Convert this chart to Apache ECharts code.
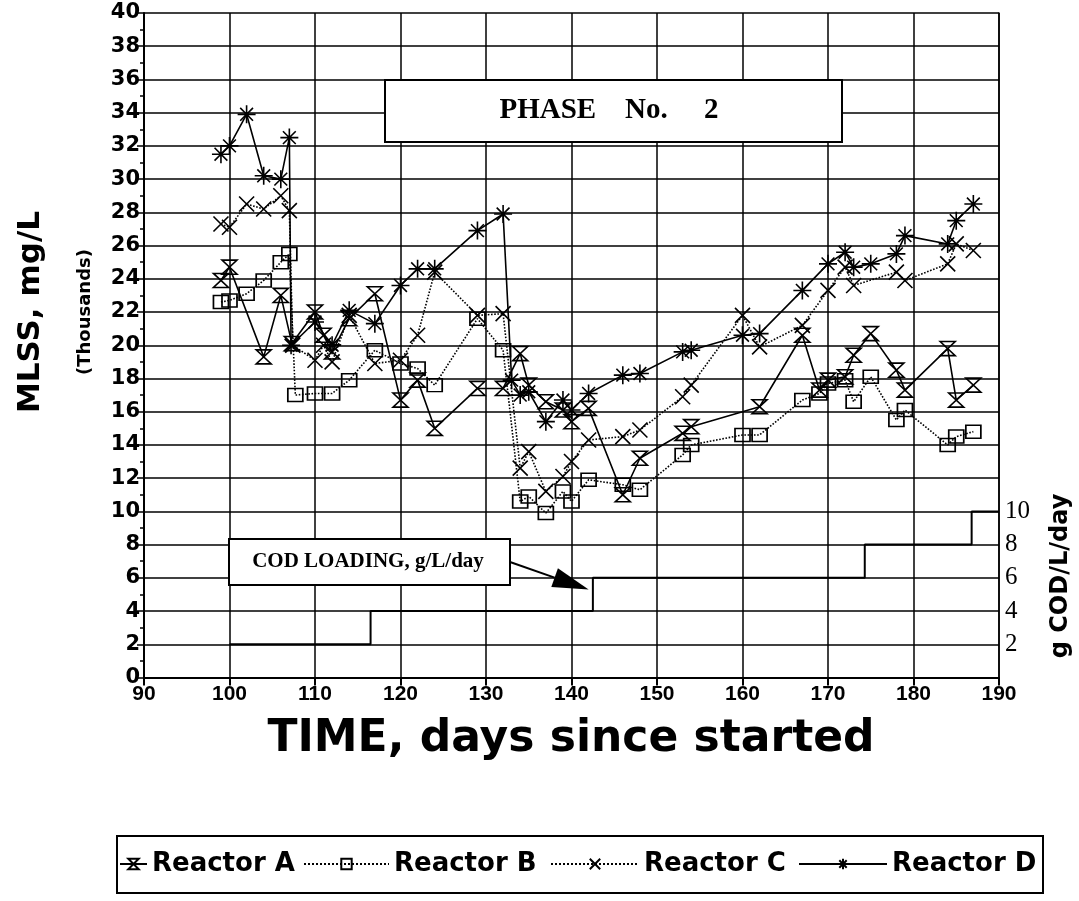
<!DOCTYPE html>
<html><head><meta charset="utf-8">
<script src="https://cdn.jsdelivr.net/npm/echarts@6/dist/echarts.min.js"></script>
<style>html,body{margin:0;padding:0;background:#fff}#c{width:1079px;height:901px}</style>
</head><body><div id="c"></div>
<script>
// ---- data (days, MLSS in thousands mg/L) ----
const daysA=[99,100,104,106,107.3,110,111,112,114,117,120,122,124,129,132,134,135,137,139,140,142,146,148,153,154,162,167,169,170,172,173,175,178,179,184,185,187];
const valsA=[23.9,24.7,19.3,23.0,20.1,22.0,20.6,19.6,21.6,23.1,16.7,17.9,15.0,17.4,17.4,19.5,17.6,16.6,16.1,15.4,16.2,11.0,13.2,14.7,15.1,16.3,20.6,17.3,17.9,18.1,19.4,20.7,18.5,17.3,19.8,16.7,17.6];
const daysB=[99,100,102,104,106,107,107.7,110,112,114,117,120,122,124,129,132,134,135,137,139,140,142,146,148,153,154,160,162,167,169,170,172,173,175,178,179,184,185,187];
const valsB=[22.6,22.7,23.1,23.9,25.0,25.5,17.0,17.1,17.1,17.9,19.7,18.9,18.6,17.6,21.6,19.7,10.6,10.9,9.9,11.2,10.6,11.9,11.6,11.3,13.4,14.0,14.6,14.6,16.7,17.1,17.7,17.9,16.6,18.1,15.5,16.1,14.0,14.5,14.8];
const daysC=[99,100,102,104,106,107,107.4,110,111,112,114,117,120,122,124,129,132,134,135,137,139,140,142,146,148,153,154,160,162,167,170,172,173,178,179,184,185,187];
const valsC=[27.3,27.1,28.5,28.2,29.0,28.1,20.0,19.1,20.0,19.0,21.8,18.9,19.1,20.6,24.4,21.8,21.9,12.6,13.6,11.2,12.1,13.0,14.3,14.5,14.9,16.9,17.6,21.8,19.9,21.2,23.3,24.7,23.6,24.4,23.9,24.9,26.1,25.7];
const daysD=[99,100,102,104,106,107,107.2,110,112,114,117,120,122,124,129,132,133,134,135,137,139,140,142,146,148,153,154,160,162,167,170,172,173,175,178,179,184,185,187];
const valsD=[31.5,32.0,33.9,30.2,30.0,32.5,20.0,21.4,20.0,22.1,21.3,23.6,24.6,24.6,26.9,27.9,17.9,17.0,17.2,15.4,16.7,16.1,17.1,18.2,18.3,19.6,19.7,20.6,20.7,23.3,24.9,25.6,24.7,24.9,25.5,26.6,26.1,27.5,28.5];
// COD loading step (g COD/L/day)
const codDays=[100,116.5,142.5,174.3,186.8,190];
const codLevels=[2,4,6,8,10,10];
const seriesNames=['Reactor A','Reactor B','Reactor C','Reactor D'];
const rightTickLabels=[2,4,6,8,10];

const zip=(d,v)=>d.map((x,i)=>[x,v[i]]);
const SYM_HOUR='path://M0,0 L16,0 L0,15 L16,15 Z';
const SYM_X='path://M0,0 L16,16 M16,0 L0,16';
const SYM_AST='path://M9,0 L9,18 M0,9 L18,9 M2.6,2.6 L15.4,15.4 M2.6,15.4 L15.4,2.6';

const chart=echarts.init(document.getElementById('c'),null,{renderer:'canvas'});
const mk=(name,data,symbol,size,ltype)=>({
  name,type:'line',data,symbol,symbolSize:size,symbolKeepAspect:true,
  lineStyle:{color:'#000',width:1.6,type:ltype},
  itemStyle:{color:'rgba(255,255,255,0)',borderColor:'#000',borderWidth:1.6},
  emphasis:{disabled:true},z:3
});
const legTxt={color:'#000',fontFamily:'DejaVu Sans',fontWeight:'bold',fontSize:26};
const legendLeft=[119,303,550,798];
const legendIconW=[27,85,88,88];
const option={
  animation:false,
  backgroundColor:'#fff',
  grid:{left:144,top:13,width:855,height:664.5,containLabel:false},
  xAxis:{type:'value',min:90,max:190,interval:10,
    axisLine:{lineStyle:{color:'#000',width:2}},
    axisTick:{length:8,lineStyle:{color:'#000',width:2}},
    axisLabel:{color:'#000',fontFamily:'Liberation Sans',fontWeight:'bold',fontSize:21,margin:6},
    splitLine:{show:true,lineStyle:{color:'#000',width:1.5}}},
  yAxis:[{type:'value',min:0,max:40,interval:2,
    axisLine:{show:true,lineStyle:{color:'#000',width:2}},
    axisTick:{show:true,length:7,lineStyle:{color:'#000',width:1.5}},
    minorTick:{show:true,splitNumber:2,length:4,lineStyle:{color:'#000',width:1.5}},
    axisLabel:{color:'#000',fontFamily:'DejaVu Sans',fontWeight:'bold',fontSize:21,margin:4},
    splitLine:{show:true,lineStyle:{color:'#000',width:1.5}}},
   {type:'value',min:0,max:40,interval:2,position:'right',
    axisLine:{show:true,lineStyle:{color:'#000',width:1.5}},
    axisTick:{show:false},splitLine:{show:false},
    axisLabel:{color:'#000',fontFamily:'Liberation Serif',fontSize:25,margin:6,
      formatter:v=>rightTickLabels.indexOf(v)>=0?String(v):''}}],
  legend:seriesNames.map((n,i)=>({show:true,data:[n],left:legendLeft[i],top:851,
    itemWidth:legendIconW[i],itemHeight:13,padding:0,textStyle:legTxt})),
  series:[
    mk(seriesNames[0],zip(daysA,valsA),SYM_HOUR,15,'solid'),
    mk(seriesNames[1],zip(daysB,valsB),'rect',[15,13],'dotted'),
    mk(seriesNames[2],zip(daysC,valsC),SYM_X,15,'dotted'),
    mk(seriesNames[3],zip(daysD,valsD),SYM_AST,18,'solid'),
    {name:'COD',type:'line',yAxisIndex:1,step:'end',symbol:'none',data:zip(codDays,codLevels),
     lineStyle:{color:'#000',width:2},emphasis:{disabled:true},z:2}
  ]
};
chart.setOption(option);
const tip=chart.convertToPixel({gridIndex:0},[142.0,5.3]);
const tail=[510,562];
const ang=Math.atan2(tip[1]-tail[1],tip[0]-tail[0]);
const L=36,W=10;
const bx=tip[0]-L*Math.cos(ang), by=tip[1]-L*Math.sin(ang);
const head=[[tip[0],tip[1]],[bx+W*Math.sin(ang),by-W*Math.cos(ang)],[bx-W*Math.sin(ang),by+W*Math.cos(ang)]];
chart.setOption({graphic:[
  {type:'rect',z:100,shape:{x:385,y:80,width:457,height:62},style:{fill:'#fff',stroke:'#000',lineWidth:2}},
  {type:'text',z:101,x:609,y:111,style:{text:'PHASE\u2003No.\u2003 2',font:'bold 29px "Liberation Serif"',fill:'#000',textAlign:'center',textVerticalAlign:'middle'}},
  {type:'rect',z:100,shape:{x:229,y:539,width:281,height:46},style:{fill:'#fff',stroke:'#000',lineWidth:2}},
  {type:'text',z:101,x:368,y:562,style:{text:'COD LOADING, g/L/day',font:'bold 21px "Liberation Serif"',fill:'#000',textAlign:'center',textVerticalAlign:'middle'}},
  {type:'line',z:100,shape:{x1:tail[0],y1:tail[1],x2:bx,y2:by},style:{stroke:'#000',lineWidth:2}},
  {type:'polygon',z:100,shape:{points:head},style:{fill:'#000'}},
  {type:'rect',z:100,shape:{x:117,y:836,width:926,height:57},style:{fill:'none',stroke:'#000',lineWidth:2}},
  {type:'text',z:101,x:571,y:740,style:{text:'TIME, days since started',font:'bold 44px "DejaVu Sans"',fill:'#000',textAlign:'center',textVerticalAlign:'middle'}},
  {type:'text',z:101,x:31,y:312,rotation:Math.PI/2,style:{text:'MLSS, mg/L',font:'bold 31px "DejaVu Sans"',fill:'#000',textAlign:'center',textVerticalAlign:'middle'}},
  {type:'text',z:101,x:85,y:312,rotation:Math.PI/2,style:{text:'(Thousands)',font:'bold 18px "DejaVu Sans"',fill:'#000',textAlign:'center',textVerticalAlign:'middle'}},
  {type:'text',z:101,x:1061,y:576,rotation:Math.PI/2,style:{text:'g COD/L/day',font:'bold 24px "DejaVu Sans"',fill:'#000',textAlign:'center',textVerticalAlign:'middle'}}
]});
</script></body></html>
